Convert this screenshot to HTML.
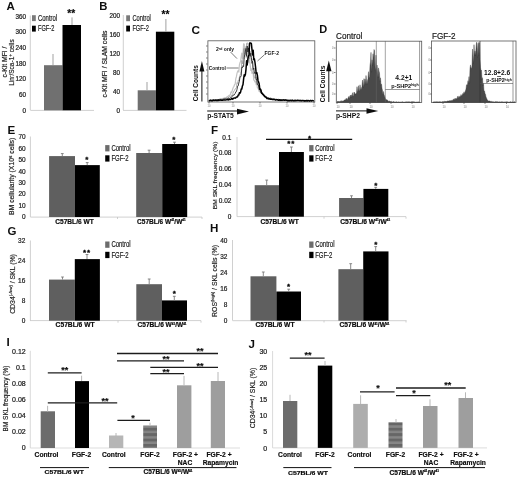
<!DOCTYPE html>
<html><head><meta charset="utf-8"><title>Figure</title>
<style>
html,body{margin:0;padding:0;background:#fff;}
body{width:520px;height:479px;overflow:hidden;font-family:"Liberation Sans",sans-serif;}
svg{display:block}
svg text{font-family:"Liberation Sans",sans-serif;}
</style></head><body>
<svg width="520" height="479" viewBox="0 0 520 479">
<defs><filter id="bl" x="0" y="0" width="100%" height="100%" filterUnits="userSpaceOnUse"><feGaussianBlur stdDeviation="0.38"/></filter></defs>
<rect width="520" height="479" fill="#fff"/>
<g filter="url(#bl)">
<rect width="520" height="479" fill="#fff"/>
<text x="6.6" y="10" font-size="11.5" font-weight="bold" text-anchor="start" fill="#111">A</text>
<text x="0" y="0" font-size="6.3" font-weight="normal" text-anchor="end" fill="#1c1c1c" stroke="#1c1c1c" stroke-width="0.22" transform="translate(26.0 18.6) scale(1 1)">360</text>
<text x="0" y="0" font-size="6.3" font-weight="normal" text-anchor="end" fill="#1c1c1c" stroke="#1c1c1c" stroke-width="0.22" transform="translate(26.0 34.3) scale(1 1)">300</text>
<text x="0" y="0" font-size="6.3" font-weight="normal" text-anchor="end" fill="#1c1c1c" stroke="#1c1c1c" stroke-width="0.22" transform="translate(26.0 50.0) scale(1 1)">240</text>
<text x="0" y="0" font-size="6.3" font-weight="normal" text-anchor="end" fill="#1c1c1c" stroke="#1c1c1c" stroke-width="0.22" transform="translate(26.0 65.6) scale(1 1)">180</text>
<text x="0" y="0" font-size="6.3" font-weight="normal" text-anchor="end" fill="#1c1c1c" stroke="#1c1c1c" stroke-width="0.22" transform="translate(26.0 81.3) scale(1 1)">120</text>
<text x="0" y="0" font-size="6.3" font-weight="normal" text-anchor="end" fill="#1c1c1c" stroke="#1c1c1c" stroke-width="0.22" transform="translate(26.0 97.0) scale(1 1)">60</text>
<text x="0" y="0" font-size="6.3" font-weight="normal" text-anchor="end" fill="#1c1c1c" stroke="#1c1c1c" stroke-width="0.22" transform="translate(26.0 112.6) scale(1 1)">0</text>
<line x1="30.3" y1="15.5" x2="30.3" y2="110" stroke="#c4c4c4" stroke-width="0.8"/>
<line x1="30.3" y1="110.4" x2="94" y2="110.4" stroke="#c4c4c4" stroke-width="0.8"/>
<rect x="44" y="65.2" width="18.5" height="45.099999999999994" fill="#707070" />
<rect x="62.5" y="25" width="18.5" height="85.3" fill="#040404" />
<line x1="53" y1="54" x2="53" y2="65" stroke="#969696" stroke-width="0.9"/>
<line x1="72" y1="17.4" x2="72" y2="25" stroke="#969696" stroke-width="0.9"/>
<text x="71.3" y="16.798000000000002" font-size="10.2" font-weight="bold" text-anchor="middle" fill="#080808" stroke="#080808" stroke-width="0.15">**</text>
<rect x="32" y="15.2" width="3.8" height="5.9" fill="#7a7a7a" />
<rect x="32" y="25.7" width="3.8" height="5.9" fill="#040404" />
<text x="38" y="20.700000000000003" font-size="8.6" font-weight="normal" text-anchor="start" fill="#1c1c1c" stroke="#1c1c1c" stroke-width="0.2" textLength="19.2" lengthAdjust="spacingAndGlyphs">Control</text>
<text x="38" y="31.200000000000003" font-size="8.6" font-weight="normal" text-anchor="start" fill="#1c1c1c" stroke="#1c1c1c" stroke-width="0.2" textLength="16.3" lengthAdjust="spacingAndGlyphs">FGF-2</text>
<text x="6.8" y="62" font-size="6.8" font-weight="normal" text-anchor="middle" fill="#1c1c1c" stroke="#1c1c1c" stroke-width="0.18" transform="rotate(-90 6.8 62)">c-Kit MFI /</text>
<text x="14.0" y="62.5" font-size="6.5" font-weight="normal" text-anchor="middle" fill="#1c1c1c" stroke="#1c1c1c" stroke-width="0.18" transform="rotate(-90 14.0 62.5)">Lin<tspan font-size="4.5" dy="-2">-</tspan><tspan dy="2">/Sca-1</tspan><tspan font-size="4.5" dy="-2">+</tspan><tspan dy="2"> cells</tspan></text>
<text x="99.2" y="10" font-size="11.3" font-weight="bold" text-anchor="start" fill="#111">B</text>
<text x="0" y="0" font-size="6.3" font-weight="normal" text-anchor="end" fill="#1c1c1c" stroke="#1c1c1c" stroke-width="0.22" transform="translate(119.9 18.1) scale(1 1)">200</text>
<text x="0" y="0" font-size="6.3" font-weight="normal" text-anchor="end" fill="#1c1c1c" stroke="#1c1c1c" stroke-width="0.22" transform="translate(119.9 37.0) scale(1 1)">160</text>
<text x="0" y="0" font-size="6.3" font-weight="normal" text-anchor="end" fill="#1c1c1c" stroke="#1c1c1c" stroke-width="0.22" transform="translate(119.9 55.9) scale(1 1)">120</text>
<text x="0" y="0" font-size="6.3" font-weight="normal" text-anchor="end" fill="#1c1c1c" stroke="#1c1c1c" stroke-width="0.22" transform="translate(119.9 74.8) scale(1 1)">80</text>
<text x="0" y="0" font-size="6.3" font-weight="normal" text-anchor="end" fill="#1c1c1c" stroke="#1c1c1c" stroke-width="0.22" transform="translate(119.9 93.69999999999999) scale(1 1)">40</text>
<text x="0" y="0" font-size="6.3" font-weight="normal" text-anchor="end" fill="#1c1c1c" stroke="#1c1c1c" stroke-width="0.22" transform="translate(119.9 112.6) scale(1 1)">0</text>
<line x1="123.3" y1="15" x2="123.3" y2="110" stroke="#c4c4c4" stroke-width="0.8"/>
<line x1="123" y1="110.4" x2="186.5" y2="110.4" stroke="#c4c4c4" stroke-width="0.8"/>
<rect x="137.7" y="90.3" width="18.200000000000017" height="20.0" fill="#707070" />
<rect x="155.9" y="31.7" width="18.400000000000006" height="78.6" fill="#040404" />
<line x1="147" y1="82" x2="147" y2="90.3" stroke="#969696" stroke-width="0.9"/>
<line x1="165.9" y1="19" x2="165.9" y2="31.7" stroke="#969696" stroke-width="0.9"/>
<text x="165.5" y="18.198" font-size="10.2" font-weight="bold" text-anchor="middle" fill="#080808" stroke="#080808" stroke-width="0.15">**</text>
<rect x="126.2" y="15.3" width="3.8" height="5.9" fill="#7a7a7a" />
<rect x="126.2" y="25.6" width="3.8" height="5.9" fill="#040404" />
<text x="132.4" y="20.800000000000004" font-size="8.6" font-weight="normal" text-anchor="start" fill="#1c1c1c" stroke="#1c1c1c" stroke-width="0.2" textLength="18.5" lengthAdjust="spacingAndGlyphs">Control</text>
<text x="132.4" y="31.1" font-size="8.6" font-weight="normal" text-anchor="start" fill="#1c1c1c" stroke="#1c1c1c" stroke-width="0.2" textLength="16.4" lengthAdjust="spacingAndGlyphs">FGF-2</text>
<text x="106.6" y="64" font-size="6.8" font-weight="normal" text-anchor="middle" fill="#1c1c1c" stroke="#1c1c1c" stroke-width="0.18" transform="rotate(-90 106.6 64)">c-Kit MFI / SLAM cells</text>
<text x="191.6" y="34" font-size="11.8" font-weight="bold" text-anchor="start" fill="#111">C</text>
<rect x="207.9" y="40.8" width="106.9" height="61.2" fill="#fff" stroke="#555" stroke-width="0.8"/>
<text x="198" y="83.3" font-size="6.5" font-weight="bold" text-anchor="middle" fill="#111" transform="rotate(-90 198 83.3)">Cell Counts</text>
<line x1="201.9" y1="101.5" x2="201.9" y2="69" stroke="#111" stroke-width="1"/>
<path d="M199.4 71.5 L201.9 61 L204.4 71.5 Z" fill="#111"/>
<line x1="207.2" y1="111" x2="240" y2="111" stroke="#111" stroke-width="1"/>
<text x="207.2" y="118.3" font-size="6.7" font-weight="bold" text-anchor="start" fill="#111">p-STAT5</text>
<path d="M237 108.8 L249 111.6 L237 114.6 Z" fill="#111"/>
<path d="M208.8 100.0 L209.4 100.2 L210.0 100.1 L210.6 99.9 L211.2 100.4 L211.8 99.9 L212.4 100.2 L213.0 99.8 L213.6 99.7 L214.2 100.0 L214.8 99.9 L215.4 99.7 L216.0 99.9 L216.6 100.0 L217.2 99.6 L217.8 99.8 L218.4 99.6 L219.0 99.8 L219.6 99.1 L220.2 99.3 L220.8 98.7 L221.4 99.3 L222.0 98.7 L222.6 98.6 L223.2 98.3 L223.8 98.6 L224.4 97.8 L225.0 98.0 L225.6 98.4 L226.2 97.3 L226.8 97.6 L227.4 96.5 L228.0 96.6 L228.6 95.7 L229.2 95.4 L229.8 95.0 L230.4 94.7 L231.0 91.9 L231.6 92.5 L232.2 90.6 L232.8 88.7 L233.4 87.1 L234.0 86.3 L234.6 84.5 L235.2 84.1 L235.8 78.6 L236.4 76.7 L237.0 73.4 L237.6 71.4 L238.2 70.6 L238.8 72.1 L239.4 65.0 L240.0 62.6 L240.6 61.5 L241.2 56.5 L241.8 53.1 L242.4 58.9 L243.0 55.1 L243.6 43.9 L244.2 44.1 L244.8 52.0 L245.4 46.8 L246.0 57.1 L246.6 47.7 L247.2 57.9 L247.8 56.8 L248.4 60.7 L249.0 62.7 L249.6 58.6 L250.2 65.1 L250.8 70.4 L251.4 68.8 L252.0 73.3 L252.6 72.4 L253.2 73.5 L253.8 80.1 L254.4 80.5 L255.0 82.1 L255.6 81.0 L256.2 84.7 L256.8 83.8 L257.4 87.6 L258.0 88.2 L258.6 89.6 L259.2 91.6 L259.8 89.6 L260.4 92.3 L261.0 93.0 L261.6 93.2 L262.2 95.0 L262.8 94.5 L263.4 94.6 L264.0 96.0 L264.6 95.5 L265.2 96.4 L265.8 97.2 L266.4 97.5 L267.0 97.8 L267.6 98.0 L268.2 98.2 L268.8 98.1 L269.4 98.3 L270.0 98.8 L270.6 98.1 L271.2 99.0 L271.8 98.5 L272.4 98.8 L273.0 98.7 L273.6 98.8 L274.2 99.2 L274.8 99.7 L275.4 99.3 L276.0 99.2 L276.6 99.4 L277.2 99.7 L277.8 99.4 L278.4 99.2 L279.0 99.8 L279.6 100.1 L280.2 99.7 L280.8 99.5 L281.4 99.8 L282.0 99.8 L282.6 100.0 L283.2 100.2 L283.8 99.8 L284.4 99.9 L285.0 99.9 L285.6 100.2 L286.2 100.3 L286.8 100.0 L287.4 100.4 L288.0 100.1 L288.6 100.5 L289.2 100.1 L289.8 100.0 L290.4 100.0 L291.0 100.3 L291.6 100.3 L292.2 100.3 L292.8 100.7 L293.4 100.3 L294.0 100.3 L294.6 100.6 L295.2 100.0 L295.8 100.5 L296.4 100.4 L297.0 100.3 L297.6 100.3 L298.2 100.4 L298.8 100.6 L299.4 100.6 L300.0 100.4 L300.6 100.4 L301.2 100.5 L301.8 100.6 L302.4 100.3 L303.0 100.6 L303.6 100.5 L304.2 100.5 L304.8 100.9 L305.4 100.8 L306.0 100.8 L306.6 100.5 L307.2 100.4 L307.8 100.4 L308.4 100.6 L309.0 100.8 L309.6 100.8 L310.2 100.3 L310.8 100.7 L311.4 100.7 L312.0 100.7 L312.6 100.8 L313.2 100.9 L313.8 100.4" fill="none" stroke="#c4c4c4" stroke-width="1.2" stroke-linejoin="round"/>
<path d="M208.8 99.9 L209.4 100.6 L210.0 100.0 L210.6 100.3 L211.2 100.1 L211.8 100.3 L212.4 100.2 L213.0 99.7 L213.6 99.9 L214.2 100.2 L214.8 100.4 L215.4 100.1 L216.0 99.7 L216.6 99.8 L217.2 100.2 L217.8 100.0 L218.4 99.4 L219.0 99.8 L219.6 99.3 L220.2 99.2 L220.8 99.2 L221.4 99.2 L222.0 99.3 L222.6 99.0 L223.2 99.1 L223.8 98.8 L224.4 98.7 L225.0 98.7 L225.6 98.4 L226.2 98.2 L226.8 98.1 L227.4 98.4 L228.0 97.9 L228.6 97.3 L229.2 96.9 L229.8 96.2 L230.4 96.4 L231.0 95.6 L231.6 95.8 L232.2 94.3 L232.8 93.8 L233.4 92.0 L234.0 91.0 L234.6 90.2 L235.2 88.9 L235.8 88.5 L236.4 87.7 L237.0 82.7 L237.6 83.5 L238.2 80.3 L238.8 80.7 L239.4 77.3 L240.0 75.3 L240.6 73.5 L241.2 71.2 L241.8 60.4 L242.4 63.9 L243.0 59.2 L243.6 48.6 L244.2 58.7 L244.8 48.4 L245.4 54.3 L246.0 54.7 L246.6 43.2 L247.2 43.0 L247.8 43.1 L248.4 50.4 L249.0 49.5 L249.6 58.9 L250.2 51.4 L250.8 57.3 L251.4 60.9 L252.0 58.7 L252.6 64.9 L253.2 72.8 L253.8 74.2 L254.4 77.1 L255.0 78.4 L255.6 77.4 L256.2 76.9 L256.8 83.2 L257.4 84.6 L258.0 84.4 L258.6 86.0 L259.2 88.3 L259.8 91.2 L260.4 91.0 L261.0 91.1 L261.6 93.6 L262.2 94.0 L262.8 94.0 L263.4 95.0 L264.0 95.5 L264.6 95.0 L265.2 96.3 L265.8 96.8 L266.4 97.1 L267.0 97.9 L267.6 97.4 L268.2 97.6 L268.8 98.1 L269.4 97.9 L270.0 98.6 L270.6 98.9 L271.2 98.4 L271.8 99.1 L272.4 99.0 L273.0 99.1 L273.6 99.5 L274.2 99.0 L274.8 99.3 L275.4 99.4 L276.0 99.5 L276.6 99.4 L277.2 99.9 L277.8 99.5 L278.4 99.3 L279.0 99.9 L279.6 99.5 L280.2 99.7 L280.8 99.9 L281.4 99.9 L282.0 99.9 L282.6 99.6 L283.2 99.6 L283.8 100.2 L284.4 100.2 L285.0 100.0 L285.6 99.9 L286.2 100.3 L286.8 99.9 L287.4 100.3 L288.0 100.5 L288.6 99.8 L289.2 100.4 L289.8 100.4 L290.4 100.1 L291.0 100.3 L291.6 100.3 L292.2 100.1 L292.8 100.4 L293.4 100.5 L294.0 100.3 L294.6 100.4 L295.2 100.1 L295.8 100.6 L296.4 100.7 L297.0 100.2 L297.6 100.5 L298.2 100.5 L298.8 100.2 L299.4 100.5 L300.0 100.5 L300.6 100.4 L301.2 100.3 L301.8 100.5 L302.4 100.5 L303.0 100.4 L303.6 100.6 L304.2 100.3 L304.8 100.4 L305.4 100.4 L306.0 100.5 L306.6 100.3 L307.2 100.5 L307.8 100.8 L308.4 100.5 L309.0 100.5 L309.6 100.6 L310.2 100.8 L310.8 100.7 L311.4 100.4 L312.0 101.0 L312.6 100.5 L313.2 100.5 L313.8 100.6" fill="none" stroke="#9a9a9a" stroke-width="0.8" stroke-linejoin="round"/>
<path d="M208.8 100.4 L209.4 100.3 L210.0 100.6 L210.6 100.2 L211.2 100.5 L211.8 100.2 L212.4 100.2 L213.0 100.4 L213.6 100.0 L214.2 100.0 L214.8 100.4 L215.4 100.0 L216.0 100.4 L216.6 100.0 L217.2 99.7 L217.8 99.7 L218.4 99.8 L219.0 99.6 L219.6 100.0 L220.2 100.1 L220.8 99.6 L221.4 99.8 L222.0 99.7 L222.6 99.6 L223.2 99.2 L223.8 99.1 L224.4 98.9 L225.0 99.4 L225.6 98.7 L226.2 98.8 L226.8 99.0 L227.4 98.5 L228.0 99.0 L228.6 97.9 L229.2 98.4 L229.8 98.3 L230.4 97.7 L231.0 97.3 L231.6 97.2 L232.2 96.4 L232.8 95.3 L233.4 95.1 L234.0 95.3 L234.6 94.0 L235.2 93.6 L235.8 91.8 L236.4 91.6 L237.0 89.4 L237.6 86.2 L238.2 85.9 L238.8 83.0 L239.4 81.2 L240.0 76.7 L240.6 76.9 L241.2 75.8 L241.8 67.3 L242.4 67.9 L243.0 65.7 L243.6 66.6 L244.2 57.6 L244.8 54.5 L245.4 51.2 L246.0 48.4 L246.6 56.3 L247.2 46.0 L247.8 52.0 L248.4 47.9 L249.0 52.1 L249.6 53.3 L250.2 56.3 L250.8 53.1 L251.4 57.7 L252.0 63.4 L252.6 61.2 L253.2 69.5 L253.8 68.0 L254.4 73.4 L255.0 72.2 L255.6 74.8 L256.2 80.0 L256.8 79.3 L257.4 84.7 L258.0 85.1 L258.6 85.3 L259.2 89.4 L259.8 88.5 L260.4 90.0 L261.0 92.9 L261.6 92.4 L262.2 94.0 L262.8 94.7 L263.4 94.7 L264.0 96.1 L264.6 95.5 L265.2 96.5 L265.8 96.8 L266.4 97.0 L267.0 97.5 L267.6 98.2 L268.2 98.6 L268.8 98.4 L269.4 98.6 L270.0 98.3 L270.6 98.3 L271.2 98.7 L271.8 99.1 L272.4 99.4 L273.0 99.1 L273.6 99.1 L274.2 99.4 L274.8 99.3 L275.4 99.4 L276.0 99.8 L276.6 99.4 L277.2 99.6 L277.8 99.4 L278.4 100.0 L279.0 99.6 L279.6 100.1 L280.2 100.0 L280.8 100.0 L281.4 100.2 L282.0 100.4 L282.6 100.4 L283.2 99.7 L283.8 100.2 L284.4 100.3 L285.0 100.1 L285.6 100.3 L286.2 100.4 L286.8 100.3 L287.4 100.3 L288.0 100.5 L288.6 100.3 L289.2 100.3 L289.8 100.2 L290.4 100.4 L291.0 100.3 L291.6 100.3 L292.2 100.6 L292.8 100.3 L293.4 100.5 L294.0 100.2 L294.6 100.5 L295.2 100.2 L295.8 100.5 L296.4 100.4 L297.0 100.3 L297.6 100.4 L298.2 100.5 L298.8 100.5 L299.4 100.8 L300.0 100.8 L300.6 100.9 L301.2 100.7 L301.8 100.4 L302.4 100.4 L303.0 100.4 L303.6 100.5 L304.2 100.9 L304.8 100.6 L305.4 100.9 L306.0 100.4 L306.6 100.8 L307.2 100.5 L307.8 100.9 L308.4 100.6 L309.0 100.7 L309.6 100.8 L310.2 100.8 L310.8 100.7 L311.4 100.7 L312.0 100.9 L312.6 100.5 L313.2 100.7 L313.8 100.6" fill="none" stroke="#2e2e2e" stroke-width="0.9" stroke-linejoin="round"/>
<path d="M208.8 100.9 L209.4 100.8 L210.0 100.7 L210.6 100.3 L211.2 100.7 L211.8 100.7 L212.4 100.8 L213.0 100.3 L213.6 100.2 L214.2 100.6 L214.8 100.4 L215.4 100.2 L216.0 100.6 L216.6 100.3 L217.2 100.6 L217.8 100.6 L218.4 100.0 L219.0 100.4 L219.6 100.1 L220.2 99.9 L220.8 100.2 L221.4 100.2 L222.0 100.3 L222.6 100.3 L223.2 100.1 L223.8 100.0 L224.4 100.1 L225.0 100.0 L225.6 100.1 L226.2 99.9 L226.8 99.7 L227.4 99.7 L228.0 99.7 L228.6 99.9 L229.2 99.3 L229.8 99.6 L230.4 99.5 L231.0 99.3 L231.6 98.6 L232.2 98.6 L232.8 99.2 L233.4 98.2 L234.0 98.2 L234.6 97.9 L235.2 98.2 L235.8 97.8 L236.4 97.0 L237.0 97.1 L237.6 96.8 L238.2 95.1 L238.8 95.1 L239.4 92.7 L240.0 93.2 L240.6 92.2 L241.2 89.1 L241.8 89.0 L242.4 86.0 L243.0 84.6 L243.6 79.1 L244.2 74.8 L244.8 76.1 L245.4 74.4 L246.0 69.3 L246.6 60.8 L247.2 64.9 L247.8 59.5 L248.4 56.1 L249.0 55.0 L249.6 43.0 L250.2 43.0 L250.8 43.0 L251.4 43.8 L252.0 49.7 L252.6 55.0 L253.2 50.2 L253.8 59.8 L254.4 58.8 L255.0 62.5 L255.6 67.4 L256.2 73.5 L256.8 72.7 L257.4 75.4 L258.0 80.4 L258.6 82.0 L259.2 83.9 L259.8 89.3 L260.4 89.0 L261.0 90.2 L261.6 93.2 L262.2 93.0 L262.8 94.1 L263.4 94.7 L264.0 95.5 L264.6 96.3 L265.2 97.0 L265.8 96.9 L266.4 97.8 L267.0 98.7 L267.6 98.3 L268.2 98.3 L268.8 99.0 L269.4 98.7 L270.0 99.0 L270.6 99.2 L271.2 99.3 L271.8 99.3 L272.4 99.5 L273.0 99.6 L273.6 99.6 L274.2 99.5 L274.8 99.5 L275.4 100.0 L276.0 99.9 L276.6 99.7 L277.2 99.8 L277.8 99.8 L278.4 100.3 L279.0 100.2 L279.6 99.8 L280.2 100.4 L280.8 100.2 L281.4 100.1 L282.0 100.5 L282.6 100.1 L283.2 100.1 L283.8 100.1 L284.4 100.2 L285.0 100.1 L285.6 100.1 L286.2 100.2 L286.8 100.3 L287.4 100.7 L288.0 100.5 L288.6 100.7 L289.2 100.7 L289.8 100.7 L290.4 100.5 L291.0 100.6 L291.6 100.8 L292.2 100.3 L292.8 100.5 L293.4 100.7 L294.0 100.9 L294.6 100.4 L295.2 100.4 L295.8 100.8 L296.4 100.6 L297.0 100.4 L297.6 100.3 L298.2 100.6 L298.8 100.5 L299.4 100.5 L300.0 100.4 L300.6 100.6 L301.2 100.5 L301.8 100.9 L302.4 100.6 L303.0 100.4 L303.6 100.8 L304.2 100.8 L304.8 101.0 L305.4 100.7 L306.0 100.7 L306.6 100.5 L307.2 101.0 L307.8 100.5 L308.4 100.5 L309.0 100.9 L309.6 100.9 L310.2 100.5 L310.8 100.6 L311.4 101.0 L312.0 100.5 L312.6 100.6 L313.2 100.8 L313.8 100.9" fill="none" stroke="#000" stroke-width="1.5" stroke-linejoin="round"/>
<text x="216" y="51" font-size="5" font-weight="bold" text-anchor="start" fill="#111">2<tspan font-size="3" dy="-1.5">nd</tspan><tspan dy="1.5"> only</tspan></text>
<line x1="230.5" y1="52" x2="237" y2="58.6" stroke="#222" stroke-width="0.6"/>
<text x="264.5" y="54.8" font-size="5" font-weight="bold" text-anchor="start" fill="#111">FGF-2</text>
<line x1="264.5" y1="54.7" x2="257.5" y2="61" stroke="#222" stroke-width="0.6"/>
<text x="208.8" y="69.6" font-size="4.8" font-weight="bold" text-anchor="start" fill="#111">Control</text>
<line x1="226.5" y1="68" x2="238.5" y2="68" stroke="#222" stroke-width="0.6"/>
<line x1="209" y1="102" x2="209" y2="103.5" stroke="#333" stroke-width="0.6"/>
<text x="209" y="106.8" font-size="2.6" font-weight="normal" text-anchor="middle" fill="#777">10</text>
<line x1="233" y1="102" x2="233" y2="103.5" stroke="#333" stroke-width="0.6"/>
<text x="233" y="106.8" font-size="2.6" font-weight="normal" text-anchor="middle" fill="#777">10</text>
<line x1="260" y1="102" x2="260" y2="103.5" stroke="#333" stroke-width="0.6"/>
<text x="260" y="106.8" font-size="2.6" font-weight="normal" text-anchor="middle" fill="#777">10</text>
<line x1="287" y1="102" x2="287" y2="103.5" stroke="#333" stroke-width="0.6"/>
<text x="287" y="106.8" font-size="2.6" font-weight="normal" text-anchor="middle" fill="#777">10</text>
<line x1="314" y1="102" x2="314" y2="103.5" stroke="#333" stroke-width="0.6"/>
<text x="314" y="106.8" font-size="2.6" font-weight="normal" text-anchor="middle" fill="#777">10</text>
<line x1="206" y1="46" x2="207.5" y2="46" stroke="#333" stroke-width="0.6"/>
<line x1="206" y1="52" x2="207.5" y2="52" stroke="#333" stroke-width="0.6"/>
<line x1="206" y1="58" x2="207.5" y2="58" stroke="#333" stroke-width="0.6"/>
<line x1="206" y1="64" x2="207.5" y2="64" stroke="#333" stroke-width="0.6"/>
<line x1="206" y1="70" x2="207.5" y2="70" stroke="#333" stroke-width="0.6"/>
<line x1="206" y1="76" x2="207.5" y2="76" stroke="#333" stroke-width="0.6"/>
<line x1="206" y1="82" x2="207.5" y2="82" stroke="#333" stroke-width="0.6"/>
<line x1="206" y1="88" x2="207.5" y2="88" stroke="#333" stroke-width="0.6"/>
<line x1="206" y1="94" x2="207.5" y2="94" stroke="#333" stroke-width="0.6"/>
<text x="319.3" y="32.8" font-size="11" font-weight="bold" text-anchor="start" fill="#111">D</text>
<text x="336" y="38.8" font-size="8.4" font-weight="normal" text-anchor="start" fill="#1c1c1c" stroke="#1c1c1c" stroke-width="0.2" textLength="26.3" lengthAdjust="spacingAndGlyphs">Control</text>
<text x="432" y="38.9" font-size="8.3" font-weight="normal" text-anchor="start" fill="#1c1c1c" stroke="#1c1c1c" stroke-width="0.2" textLength="23.4" lengthAdjust="spacingAndGlyphs">FGF-2</text>
<rect x="336.3" y="41.2" width="85.4" height="61.3" fill="#fff" stroke="#555" stroke-width="0.8"/>
<rect x="431.5" y="41" width="84.5" height="61.5" fill="#fff" stroke="#555" stroke-width="0.8"/>
<text x="325.4" y="83.9" font-size="6.8" font-weight="bold" text-anchor="middle" fill="#111" textLength="36.5" lengthAdjust="spacingAndGlyphs" transform="rotate(-90 325.4 83.9)">Cell Counts</text>
<line x1="328.8" y1="102" x2="328.8" y2="69" stroke="#111" stroke-width="1"/>
<path d="M326.1 71.2 L328.8 60.5 L331.5 71.2 Z" fill="#111"/>
<line x1="336" y1="110.9" x2="368" y2="110.9" stroke="#111" stroke-width="1"/>
<text x="336" y="118" font-size="6.5" font-weight="bold" text-anchor="start" fill="#111" textLength="24" lengthAdjust="spacingAndGlyphs">p-SHP2</text>
<path d="M366.5 108.3 L378.3 111 L366.5 113.7 Z" fill="#111"/>
<path d="M337.0 101.6 L337.5 101.6 L338.0 101.5 L338.5 101.6 L339.0 101.2 L339.5 101.7 L340.0 101.3 L340.5 101.4 L341.0 100.6 L341.5 100.9 L342.0 101.4 L342.5 101.0 L343.0 101.0 L343.5 100.9 L344.0 100.2 L344.5 100.0 L345.0 99.8 L345.5 99.9 L346.0 98.4 L346.5 98.5 L347.0 99.5 L347.5 99.4 L348.0 97.9 L348.5 97.3 L349.0 96.3 L349.5 98.9 L350.0 95.8 L350.5 95.1 L351.0 97.6 L351.5 94.8 L352.0 97.1 L352.5 92.7 L353.0 96.3 L353.5 96.1 L354.0 92.0 L354.5 92.6 L355.0 94.0 L355.5 94.0 L356.0 93.8 L356.5 92.8 L357.0 86.7 L357.5 90.9 L358.0 91.4 L358.5 85.7 L359.0 91.1 L359.5 90.2 L360.0 84.8 L360.5 88.7 L361.0 90.0 L361.5 88.1 L362.0 86.6 L362.5 80.1 L363.0 83.3 L363.5 87.5 L364.0 78.6 L364.5 85.9 L365.0 79.0 L365.5 84.9 L366.0 75.5 L366.5 80.7 L367.0 84.5 L367.5 80.6 L368.0 78.8 L368.5 71.7 L369.0 77.1 L369.5 77.7 L370.0 65.3 L370.5 62.0 L371.0 52.4 L371.5 72.3 L372.0 59.8 L372.5 65.5 L373.0 53.8 L373.5 58.7 L374.0 49.5 L374.5 50.7 L375.0 67.1 L375.5 70.9 L376.0 55.1 L376.5 73.7 L377.0 65.0 L377.5 70.7 L378.0 77.9 L378.5 67.9 L379.0 71.1 L379.5 73.1 L380.0 82.0 L380.5 77.8 L381.0 85.7 L381.5 83.9 L382.0 88.3 L382.5 90.4 L383.0 94.9 L383.5 91.5 L384.0 94.6 L384.5 95.7 L385.0 97.4 L385.5 99.1 L386.0 99.8 L386.5 99.7 L387.0 99.8 L387.5 100.1 L388.0 101.2 L388.5 101.0 L389.0 101.5 L389.5 101.1 L390.0 101.3 L390.5 101.5 L391.0 101.8 L391.5 101.4 L392.0 101.8 L392.5 101.9 L393.0 101.9 L393.5 101.6 L394.0 101.6 L394.5 102.1 L395.0 102.0 L395.5 102.0 L396.0 101.9 L396.5 101.7 L397.0 101.9 L397.5 102.2 L398.0 102.2 L398.5 101.9 L399.0 101.8 L399.5 102.2 L400.0 102.2 L400.5 102.1 L401.0 102.2 L401.5 102.0 L402.0 101.9 L402.5 101.7 L403.0 102.1 L403.5 102.2 L404.0 102.0 L404.5 102.2 L405.0 102.1 L405.5 101.9 L406.0 101.8 L406.5 101.8 L407.0 102.2 L407.5 101.8 L408.0 102.0 L408.5 101.7 L409.0 101.9 L409.5 101.8 L410.0 102.0 L410.5 102.1 L411.0 101.8 L411.5 101.8 L412.0 101.7 L412.5 101.7 L413.0 101.8 L413.5 101.7 L414.0 102.1 L414.5 102.0 L415.0 101.8 L415.5 102.3 L416.0 102.2 L416.5 102.2 L417.0 101.8 L417.5 102.2 L418.0 101.8 L418.5 101.9 L419.0 102.0 L419.5 102.2 L420.0 102.0 L420.0 102.4 L337.0 102.4 Z" fill="#484848" stroke="#3a3a3a" stroke-width="0.4" stroke-linejoin="round"/>
<line x1="376.3" y1="41" x2="376.3" y2="102.3" stroke="#666" stroke-width="0.6"/>
<line x1="385.3" y1="41" x2="385.3" y2="102.3" stroke="#666" stroke-width="0.6"/>
<line x1="385.3" y1="89.5" x2="419.6" y2="89.5" stroke="#555" stroke-width="0.6"/>
<line x1="419.6" y1="41" x2="419.6" y2="102.3" stroke="#555" stroke-width="0.6"/>
<text x="403.8" y="79.5" font-size="6.7" font-weight="bold" text-anchor="middle" fill="#111">4.2<tspan text-decoration="underline">+</tspan>1</text>
<text x="405" y="87.9" font-size="5.3" font-weight="bold" text-anchor="middle" fill="#111" textLength="27.5" lengthAdjust="spacingAndGlyphs">p-SHP2<tspan font-size="3.4" dy="-1.6">high</tspan></text>
<path d="M433.0 101.8 L433.5 102.1 L434.0 102.0 L434.5 101.8 L435.0 101.9 L435.5 101.8 L436.0 102.0 L436.5 101.7 L437.0 101.7 L437.5 101.8 L438.0 101.9 L438.5 102.1 L439.0 101.6 L439.5 102.1 L440.0 101.5 L440.5 101.9 L441.0 101.9 L441.5 101.9 L442.0 101.9 L442.5 101.5 L443.0 101.7 L443.5 101.6 L444.0 101.9 L444.5 101.2 L445.0 101.2 L445.5 101.5 L446.0 101.2 L446.5 101.6 L447.0 101.2 L447.5 101.0 L448.0 101.1 L448.5 101.0 L449.0 101.1 L449.5 100.6 L450.0 100.9 L450.5 100.6 L451.0 100.9 L451.5 100.3 L452.0 100.6 L452.5 100.4 L453.0 99.5 L453.5 99.3 L454.0 99.6 L454.5 99.6 L455.0 98.3 L455.5 99.8 L456.0 98.1 L456.5 99.1 L457.0 99.0 L457.5 96.3 L458.0 97.8 L458.5 97.5 L459.0 95.9 L459.5 97.5 L460.0 96.4 L460.5 96.6 L461.0 94.5 L461.5 95.9 L462.0 95.5 L462.5 94.3 L463.0 93.3 L463.5 94.6 L464.0 91.8 L464.5 94.0 L465.0 92.0 L465.5 90.6 L466.0 89.0 L466.5 84.8 L467.0 84.8 L467.5 84.4 L468.0 80.7 L468.5 83.6 L469.0 76.6 L469.5 83.8 L470.0 68.3 L470.5 64.9 L471.0 68.1 L471.5 68.6 L472.0 66.0 L472.5 49.1 L473.0 55.2 L473.5 63.5 L474.0 44.7 L474.5 55.6 L475.0 51.0 L475.5 55.6 L476.0 48.4 L476.5 42.5 L477.0 42.5 L477.5 58.0 L478.0 44.4 L478.5 42.5 L479.0 55.7 L479.5 42.5 L480.0 59.7 L480.5 67.6 L481.0 71.0 L481.5 70.2 L482.0 80.1 L482.5 77.7 L483.0 85.8 L483.5 83.4 L484.0 91.5 L484.5 90.8 L485.0 93.4 L485.5 94.3 L486.0 96.9 L486.5 98.0 L487.0 99.3 L487.5 100.3 L488.0 100.5 L488.5 101.1 L489.0 100.9 L489.5 100.9 L490.0 101.1 L490.5 101.4 L491.0 101.5 L491.5 101.4 L492.0 101.6 L492.5 101.8 L493.0 101.8 L493.5 101.8 L494.0 101.9 L494.5 102.0 L495.0 101.8 L495.5 101.7 L496.0 101.6 L496.5 101.7 L497.0 102.1 L497.5 101.7 L498.0 101.7 L498.5 102.0 L499.0 102.1 L499.5 101.8 L500.0 102.1 L500.5 102.0 L501.0 101.8 L501.5 101.8 L502.0 102.0 L502.5 101.8 L503.0 101.9 L503.5 102.0 L504.0 102.0 L504.5 101.9 L505.0 102.1 L505.5 101.9 L506.0 101.8 L506.5 101.8 L507.0 102.0 L507.5 101.8 L508.0 102.2 L508.5 102.2 L509.0 102.2 L509.5 102.1 L510.0 101.9 L510.5 101.7 L511.0 101.8 L511.5 102.2 L512.0 101.7 L512.5 102.1 L513.0 102.0 L513.5 102.1 L514.0 102.2 L514.5 101.7 L515.0 101.8 L515.0 102.4 L433.0 102.4 Z" fill="#484848" stroke="#3a3a3a" stroke-width="0.4" stroke-linejoin="round"/>
<line x1="480" y1="41" x2="480" y2="102.3" stroke="#333" stroke-width="0.7"/>
<line x1="480" y1="83.5" x2="513" y2="83.5" stroke="#555" stroke-width="0.6"/>
<line x1="513" y1="41" x2="513" y2="102.3" stroke="#555" stroke-width="0.6"/>
<text x="497.2" y="75.2" font-size="6.7" font-weight="bold" text-anchor="middle" fill="#111" textLength="26.2" lengthAdjust="spacingAndGlyphs">12.8<tspan text-decoration="underline">+</tspan>2.6</text>
<text x="499" y="82.2" font-size="5.2" font-weight="bold" text-anchor="middle" fill="#111" textLength="25.5" lengthAdjust="spacingAndGlyphs">p-SHP2<tspan font-size="3.4" dy="-1.6">high</tspan></text>
<line x1="337" y1="102.5" x2="337" y2="104" stroke="#333" stroke-width="0.6"/>
<text x="338" y="107.8" font-size="2.8" font-weight="normal" text-anchor="middle" fill="#777">10</text>
<line x1="350" y1="102.5" x2="350" y2="104" stroke="#333" stroke-width="0.6"/>
<text x="351" y="107.8" font-size="2.8" font-weight="normal" text-anchor="middle" fill="#777">10</text>
<line x1="370" y1="102.5" x2="370" y2="104" stroke="#333" stroke-width="0.6"/>
<text x="371" y="107.8" font-size="2.8" font-weight="normal" text-anchor="middle" fill="#777">10</text>
<line x1="391" y1="102.5" x2="391" y2="104" stroke="#333" stroke-width="0.6"/>
<text x="392" y="107.8" font-size="2.8" font-weight="normal" text-anchor="middle" fill="#777">10</text>
<line x1="412" y1="102.5" x2="412" y2="104" stroke="#333" stroke-width="0.6"/>
<text x="413" y="107.8" font-size="2.8" font-weight="normal" text-anchor="middle" fill="#777">10</text>
<line x1="443" y1="102.5" x2="443" y2="104" stroke="#333" stroke-width="0.6"/>
<text x="444" y="107.8" font-size="2.8" font-weight="normal" text-anchor="middle" fill="#777">10</text>
<line x1="464" y1="102.5" x2="464" y2="104" stroke="#333" stroke-width="0.6"/>
<text x="465" y="107.8" font-size="2.8" font-weight="normal" text-anchor="middle" fill="#777">10</text>
<line x1="485" y1="102.5" x2="485" y2="104" stroke="#333" stroke-width="0.6"/>
<text x="486" y="107.8" font-size="2.8" font-weight="normal" text-anchor="middle" fill="#777">10</text>
<line x1="506.5" y1="102.5" x2="506.5" y2="104" stroke="#333" stroke-width="0.6"/>
<text x="507.5" y="107.8" font-size="2.8" font-weight="normal" text-anchor="middle" fill="#777">10</text>
<line x1="334" y1="48" x2="335.5" y2="48" stroke="#333" stroke-width="0.6"/>
<line x1="430" y1="48" x2="431.5" y2="48" stroke="#333" stroke-width="0.6"/>
<text x="333.5" y="49" font-size="2.6" font-weight="normal" text-anchor="end" fill="#666">0</text>
<text x="430" y="49" font-size="2.6" font-weight="normal" text-anchor="end" fill="#666">0</text>
<line x1="334" y1="60" x2="335.5" y2="60" stroke="#333" stroke-width="0.6"/>
<line x1="430" y1="60" x2="431.5" y2="60" stroke="#333" stroke-width="0.6"/>
<text x="333.5" y="61" font-size="2.6" font-weight="normal" text-anchor="end" fill="#666">0</text>
<text x="430" y="61" font-size="2.6" font-weight="normal" text-anchor="end" fill="#666">0</text>
<line x1="334" y1="72.5" x2="335.5" y2="72.5" stroke="#333" stroke-width="0.6"/>
<line x1="430" y1="72.5" x2="431.5" y2="72.5" stroke="#333" stroke-width="0.6"/>
<text x="333.5" y="73.5" font-size="2.6" font-weight="normal" text-anchor="end" fill="#666">0</text>
<text x="430" y="73.5" font-size="2.6" font-weight="normal" text-anchor="end" fill="#666">0</text>
<line x1="334" y1="84" x2="335.5" y2="84" stroke="#333" stroke-width="0.6"/>
<line x1="430" y1="84" x2="431.5" y2="84" stroke="#333" stroke-width="0.6"/>
<text x="333.5" y="85" font-size="2.6" font-weight="normal" text-anchor="end" fill="#666">0</text>
<text x="430" y="85" font-size="2.6" font-weight="normal" text-anchor="end" fill="#666">0</text>
<line x1="334" y1="94" x2="335.5" y2="94" stroke="#333" stroke-width="0.6"/>
<line x1="430" y1="94" x2="431.5" y2="94" stroke="#333" stroke-width="0.6"/>
<text x="333.5" y="95" font-size="2.6" font-weight="normal" text-anchor="end" fill="#666">0</text>
<text x="430" y="95" font-size="2.6" font-weight="normal" text-anchor="end" fill="#666">0</text>
<text x="7.4" y="133.8" font-size="11.6" font-weight="bold" text-anchor="start" fill="#111">E</text>
<text x="0" y="0" font-size="7" font-weight="normal" text-anchor="end" fill="#1c1c1c" stroke="#1c1c1c" stroke-width="0.22" transform="translate(25.7 139.29999999999998) scale(0.93 1)">70</text>
<text x="0" y="0" font-size="7" font-weight="normal" text-anchor="end" fill="#1c1c1c" stroke="#1c1c1c" stroke-width="0.22" transform="translate(25.7 150.73) scale(0.93 1)">60</text>
<text x="0" y="0" font-size="7" font-weight="normal" text-anchor="end" fill="#1c1c1c" stroke="#1c1c1c" stroke-width="0.22" transform="translate(25.7 162.16) scale(0.93 1)">50</text>
<text x="0" y="0" font-size="7" font-weight="normal" text-anchor="end" fill="#1c1c1c" stroke="#1c1c1c" stroke-width="0.22" transform="translate(25.7 173.58999999999997) scale(0.93 1)">40</text>
<text x="0" y="0" font-size="7" font-weight="normal" text-anchor="end" fill="#1c1c1c" stroke="#1c1c1c" stroke-width="0.22" transform="translate(25.7 185.01999999999998) scale(0.93 1)">30</text>
<text x="0" y="0" font-size="7" font-weight="normal" text-anchor="end" fill="#1c1c1c" stroke="#1c1c1c" stroke-width="0.22" transform="translate(25.7 196.45) scale(0.93 1)">20</text>
<text x="0" y="0" font-size="7" font-weight="normal" text-anchor="end" fill="#1c1c1c" stroke="#1c1c1c" stroke-width="0.22" transform="translate(25.7 207.87999999999997) scale(0.93 1)">10</text>
<text x="0" y="0" font-size="7" font-weight="normal" text-anchor="end" fill="#1c1c1c" stroke="#1c1c1c" stroke-width="0.22" transform="translate(25.7 219.30999999999997) scale(0.93 1)">0</text>
<line x1="30.4" y1="136.5" x2="30.4" y2="217" stroke="#c4c4c4" stroke-width="0.8"/>
<line x1="30.4" y1="217.1" x2="202" y2="217.1" stroke="#c4c4c4" stroke-width="0.8"/>
<line x1="117.5" y1="217" x2="117.5" y2="219" stroke="#c4c4c4" stroke-width="0.8"/>
<line x1="202" y1="217" x2="202" y2="219" stroke="#c4c4c4" stroke-width="0.8"/>
<rect x="49.1" y="156.1" width="25.9" height="60.900000000000006" fill="#5e5e5e" />
<rect x="75" y="165.1" width="24.799999999999997" height="51.900000000000006" fill="#040404" />
<line x1="62.3" y1="153.6" x2="62.3" y2="156.1" stroke="#7c7c7c" stroke-width="0.9"/>
<line x1="60.9" y1="153.6" x2="63.699999999999996" y2="153.6" stroke="#7c7c7c" stroke-width="0.9"/>
<line x1="87.2" y1="162.6" x2="87.2" y2="165.1" stroke="#7c7c7c" stroke-width="0.9"/>
<line x1="85.8" y1="162.6" x2="88.60000000000001" y2="162.6" stroke="#7c7c7c" stroke-width="0.9"/>
<text x="86.7" y="162.11999999999998" font-size="8" font-weight="bold" text-anchor="middle" fill="#080808" stroke="#080808" stroke-width="0.3">*</text>
<rect x="136.2" y="153" width="26.0" height="64" fill="#5e5e5e" />
<rect x="162.2" y="144" width="25.0" height="73" fill="#040404" />
<line x1="149.1" y1="150.2" x2="149.1" y2="153" stroke="#7c7c7c" stroke-width="0.9"/>
<line x1="147.7" y1="150.2" x2="150.5" y2="150.2" stroke="#7c7c7c" stroke-width="0.9"/>
<line x1="174.5" y1="142.2" x2="174.5" y2="144" stroke="#7c7c7c" stroke-width="0.9"/>
<line x1="173.1" y1="142.2" x2="175.9" y2="142.2" stroke="#7c7c7c" stroke-width="0.9"/>
<text x="173.9" y="141.61999999999998" font-size="8" font-weight="bold" text-anchor="middle" fill="#080808" stroke="#080808" stroke-width="0.3">*</text>
<rect x="105.2" y="145.1" width="4.3" height="6.3" fill="#6c6c6c" />
<rect x="105.2" y="155.3" width="4.3" height="6.3" fill="#040404" />
<text x="111.4" y="151.0" font-size="8.7" font-weight="normal" text-anchor="start" fill="#1c1c1c" stroke="#1c1c1c" stroke-width="0.2" textLength="19.3" lengthAdjust="spacingAndGlyphs">Control</text>
<text x="111.4" y="161.20000000000002" font-size="8.7" font-weight="normal" text-anchor="start" fill="#1c1c1c" stroke="#1c1c1c" stroke-width="0.2" textLength="17.2" lengthAdjust="spacingAndGlyphs">FGF-2</text>
<text x="74.5" y="223.8" font-size="7.2" font-weight="bold" text-anchor="middle" fill="#0a0a0a" stroke="#0a0a0a" stroke-width="0.2" textLength="38.4" lengthAdjust="spacingAndGlyphs">C57BL/6 WT</text>
<text x="161.3" y="223.8" font-size="7.2" font-weight="bold" text-anchor="middle" fill="#0a0a0a" stroke="#0a0a0a" stroke-width="0.2" textLength="48.5" lengthAdjust="spacingAndGlyphs">C57BL/6 W<tspan font-size="3.2" dy="-2.6">41</tspan><tspan dy="2.6">/W</tspan><tspan font-size="3.2" dy="-2.6">41</tspan></text>
<text x="0" y="0" font-size="6.85" font-weight="normal" text-anchor="middle" fill="#1c1c1c" stroke="#1c1c1c" stroke-width="0.18" transform="translate(14.4 176.4) scale(0.92 1) rotate(-90)">BM cellularity (X10<tspan font-size="4.2" dy="-2.3">6</tspan><tspan dy="2.3"> cells)</tspan></text>
<text x="211" y="133.8" font-size="11.6" font-weight="bold" text-anchor="start" fill="#111">F</text>
<text x="0" y="0" font-size="7" font-weight="normal" text-anchor="end" fill="#1c1c1c" stroke="#1c1c1c" stroke-width="0.22" transform="translate(231.4 139.5) scale(0.93 1)">0.1</text>
<text x="0" y="0" font-size="7" font-weight="normal" text-anchor="end" fill="#1c1c1c" stroke="#1c1c1c" stroke-width="0.22" transform="translate(231.4 155.45) scale(0.93 1)">0.08</text>
<text x="0" y="0" font-size="7" font-weight="normal" text-anchor="end" fill="#1c1c1c" stroke="#1c1c1c" stroke-width="0.22" transform="translate(231.4 171.4) scale(0.93 1)">0.06</text>
<text x="0" y="0" font-size="7" font-weight="normal" text-anchor="end" fill="#1c1c1c" stroke="#1c1c1c" stroke-width="0.22" transform="translate(231.4 187.35) scale(0.93 1)">0.04</text>
<text x="0" y="0" font-size="7" font-weight="normal" text-anchor="end" fill="#1c1c1c" stroke="#1c1c1c" stroke-width="0.22" transform="translate(231.4 203.29999999999998) scale(0.93 1)">0.02</text>
<text x="0" y="0" font-size="7" font-weight="normal" text-anchor="end" fill="#1c1c1c" stroke="#1c1c1c" stroke-width="0.22" transform="translate(231.4 219.25) scale(0.93 1)">0</text>
<line x1="237" y1="137" x2="237" y2="216.7" stroke="#c4c4c4" stroke-width="0.8"/>
<line x1="237" y1="216.6" x2="406" y2="216.6" stroke="#c4c4c4" stroke-width="0.8"/>
<line x1="324" y1="216.7" x2="324" y2="218.7" stroke="#c4c4c4" stroke-width="0.8"/>
<line x1="406" y1="216.7" x2="406" y2="218.7" stroke="#c4c4c4" stroke-width="0.8"/>
<rect x="254.7" y="185.2" width="24.30000000000001" height="31.5" fill="#5e5e5e" />
<rect x="279" y="152" width="24.899999999999977" height="64.69999999999999" fill="#040404" />
<line x1="266.7" y1="180.1" x2="266.7" y2="185.2" stroke="#7c7c7c" stroke-width="0.9"/>
<line x1="265.3" y1="180.1" x2="268.09999999999997" y2="180.1" stroke="#7c7c7c" stroke-width="0.9"/>
<line x1="291.4" y1="147" x2="291.4" y2="152" stroke="#7c7c7c" stroke-width="0.9"/>
<line x1="290.0" y1="147" x2="292.79999999999995" y2="147" stroke="#7c7c7c" stroke-width="0.9"/>
<text x="291.3" y="146.01999999999998" font-size="8" font-weight="bold" text-anchor="middle" fill="#080808" stroke="#080808" stroke-width="0.3" letter-spacing="0.9">**</text>
<line x1="266" y1="139.3" x2="352.2" y2="139.3" stroke="#0c0c0c" stroke-width="1.3"/>
<text x="309.5" y="140.72" font-size="8" font-weight="bold" text-anchor="middle" fill="#080808" stroke="#080808" stroke-width="0.3">*</text>
<rect x="339.1" y="198" width="24.299999999999955" height="18.69999999999999" fill="#5e5e5e" />
<rect x="363.4" y="188.9" width="24.900000000000034" height="27.799999999999983" fill="#040404" />
<line x1="351.5" y1="195.8" x2="351.5" y2="198" stroke="#7c7c7c" stroke-width="0.9"/>
<line x1="350.1" y1="195.8" x2="352.9" y2="195.8" stroke="#7c7c7c" stroke-width="0.9"/>
<line x1="375.7" y1="187.3" x2="375.7" y2="188.9" stroke="#7c7c7c" stroke-width="0.9"/>
<line x1="374.3" y1="187.3" x2="377.09999999999997" y2="187.3" stroke="#7c7c7c" stroke-width="0.9"/>
<text x="375.7" y="187.61999999999998" font-size="8" font-weight="bold" text-anchor="middle" fill="#080808" stroke="#080808" stroke-width="0.3">*</text>
<rect x="309.2" y="145.1" width="4.3" height="6.3" fill="#6c6c6c" />
<rect x="309.2" y="155.3" width="4.3" height="6.3" fill="#040404" />
<text x="315.2" y="151.0" font-size="8.7" font-weight="normal" text-anchor="start" fill="#1c1c1c" stroke="#1c1c1c" stroke-width="0.2" textLength="19.3" lengthAdjust="spacingAndGlyphs">Control</text>
<text x="315.2" y="161.20000000000002" font-size="8.7" font-weight="normal" text-anchor="start" fill="#1c1c1c" stroke="#1c1c1c" stroke-width="0.2" textLength="17.2" lengthAdjust="spacingAndGlyphs">FGF-2</text>
<text x="279.6" y="223.9" font-size="7" font-weight="bold" text-anchor="middle" fill="#0a0a0a" stroke="#0a0a0a" stroke-width="0.2" textLength="38.4" lengthAdjust="spacingAndGlyphs">C57BL/6 WT</text>
<text x="365.2" y="223.7" font-size="7" font-weight="bold" text-anchor="middle" fill="#0a0a0a" stroke="#0a0a0a" stroke-width="0.2" textLength="50" lengthAdjust="spacingAndGlyphs">C57BL/6 W<tspan font-size="3.2" dy="-2.6">41</tspan><tspan dy="2.6">/W</tspan><tspan font-size="3.2" dy="-2.6">41</tspan></text>
<text x="0" y="0" font-size="6.7" font-weight="normal" text-anchor="middle" fill="#1c1c1c" stroke="#1c1c1c" stroke-width="0.18" transform="translate(217.2 175.4) scale(0.92 1) rotate(-90)">BM SKL frequency (%)</text>
<text x="7.5" y="234.5" font-size="11.5" font-weight="bold" text-anchor="start" fill="#111">G</text>
<text x="0" y="0" font-size="7" font-weight="normal" text-anchor="end" fill="#1c1c1c" stroke="#1c1c1c" stroke-width="0.22" transform="translate(25.3 243.29999999999998) scale(0.93 1)">32</text>
<text x="0" y="0" font-size="7" font-weight="normal" text-anchor="end" fill="#1c1c1c" stroke="#1c1c1c" stroke-width="0.22" transform="translate(25.3 263.27) scale(0.93 1)">24</text>
<text x="0" y="0" font-size="7" font-weight="normal" text-anchor="end" fill="#1c1c1c" stroke="#1c1c1c" stroke-width="0.22" transform="translate(25.3 283.24) scale(0.93 1)">16</text>
<text x="0" y="0" font-size="7" font-weight="normal" text-anchor="end" fill="#1c1c1c" stroke="#1c1c1c" stroke-width="0.22" transform="translate(25.3 303.21000000000004) scale(0.93 1)">8</text>
<text x="0" y="0" font-size="7" font-weight="normal" text-anchor="end" fill="#1c1c1c" stroke="#1c1c1c" stroke-width="0.22" transform="translate(25.3 323.18) scale(0.93 1)">0</text>
<line x1="30.4" y1="240.5" x2="30.4" y2="320.7" stroke="#c4c4c4" stroke-width="0.8"/>
<line x1="30" y1="320.6" x2="201" y2="320.6" stroke="#c4c4c4" stroke-width="0.8"/>
<line x1="118" y1="320.7" x2="118" y2="322.7" stroke="#c4c4c4" stroke-width="0.8"/>
<line x1="201" y1="320.7" x2="201" y2="322.7" stroke="#c4c4c4" stroke-width="0.8"/>
<rect x="49" y="279.6" width="25.799999999999997" height="41.099999999999966" fill="#5e5e5e" />
<rect x="74.8" y="259.1" width="25.10000000000001" height="61.599999999999966" fill="#040404" />
<line x1="62.5" y1="277" x2="62.5" y2="279.5" stroke="#7c7c7c" stroke-width="0.9"/>
<line x1="61.1" y1="277" x2="63.9" y2="277" stroke="#7c7c7c" stroke-width="0.9"/>
<line x1="87" y1="254.5" x2="87" y2="259" stroke="#7c7c7c" stroke-width="0.9"/>
<line x1="85.6" y1="254.5" x2="88.4" y2="254.5" stroke="#7c7c7c" stroke-width="0.9"/>
<text x="86.9" y="254.72" font-size="8" font-weight="bold" text-anchor="middle" fill="#080808" stroke="#080808" stroke-width="0.3" letter-spacing="0.9">**</text>
<rect x="136.3" y="284.2" width="25.69999999999999" height="36.5" fill="#5e5e5e" />
<rect x="162" y="300.4" width="25" height="20.30000000000001" fill="#040404" />
<line x1="149.2" y1="279" x2="149.2" y2="284.2" stroke="#7c7c7c" stroke-width="0.9"/>
<line x1="147.79999999999998" y1="279" x2="150.6" y2="279" stroke="#7c7c7c" stroke-width="0.9"/>
<line x1="174.3" y1="296.3" x2="174.3" y2="300.4" stroke="#7c7c7c" stroke-width="0.9"/>
<line x1="172.9" y1="296.3" x2="175.70000000000002" y2="296.3" stroke="#7c7c7c" stroke-width="0.9"/>
<text x="174.3" y="296.32" font-size="8" font-weight="bold" text-anchor="middle" fill="#080808" stroke="#080808" stroke-width="0.3">*</text>
<rect x="105.2" y="241.5" width="4.3" height="6.3" fill="#6c6c6c" />
<rect x="105.2" y="251.8" width="4.3" height="6.3" fill="#040404" />
<text x="111.4" y="247.4" font-size="8.7" font-weight="normal" text-anchor="start" fill="#1c1c1c" stroke="#1c1c1c" stroke-width="0.2" textLength="19.3" lengthAdjust="spacingAndGlyphs">Control</text>
<text x="111.4" y="257.70000000000005" font-size="8.7" font-weight="normal" text-anchor="start" fill="#1c1c1c" stroke="#1c1c1c" stroke-width="0.2" textLength="17.2" lengthAdjust="spacingAndGlyphs">FGF-2</text>
<text x="75.1" y="327.3" font-size="7" font-weight="bold" text-anchor="middle" fill="#0a0a0a" stroke="#0a0a0a" stroke-width="0.2" textLength="39" lengthAdjust="spacingAndGlyphs">C57BL/6 WT</text>
<text x="162" y="327.3" font-size="7" font-weight="bold" text-anchor="middle" fill="#0a0a0a" stroke="#0a0a0a" stroke-width="0.2" textLength="49" lengthAdjust="spacingAndGlyphs">C57BL/6 W<tspan font-size="3.2" dy="-2.6">41</tspan><tspan dy="2.6">/W</tspan><tspan font-size="3.2" dy="-2.6">41</tspan></text>
<text x="0" y="0" font-size="6.9" font-weight="normal" text-anchor="middle" fill="#1c1c1c" stroke="#1c1c1c" stroke-width="0.18" transform="translate(14.6 284) scale(0.92 1) rotate(-90)">CD34<tspan font-size="4" dy="-2.3">(-/low)</tspan><tspan dy="2.3"> / SKL (%)</tspan></text>
<text x="210.1" y="232.4" font-size="11.6" font-weight="bold" text-anchor="start" fill="#111">H</text>
<text x="0" y="0" font-size="7" font-weight="normal" text-anchor="end" fill="#1c1c1c" stroke="#1c1c1c" stroke-width="0.22" transform="translate(227.4 242.9) scale(0.93 1)">40</text>
<text x="0" y="0" font-size="7" font-weight="normal" text-anchor="end" fill="#1c1c1c" stroke="#1c1c1c" stroke-width="0.22" transform="translate(227.4 258.93000000000006) scale(0.93 1)">32</text>
<text x="0" y="0" font-size="7" font-weight="normal" text-anchor="end" fill="#1c1c1c" stroke="#1c1c1c" stroke-width="0.22" transform="translate(227.4 274.96000000000004) scale(0.93 1)">24</text>
<text x="0" y="0" font-size="7" font-weight="normal" text-anchor="end" fill="#1c1c1c" stroke="#1c1c1c" stroke-width="0.22" transform="translate(227.4 290.99) scale(0.93 1)">16</text>
<text x="0" y="0" font-size="7" font-weight="normal" text-anchor="end" fill="#1c1c1c" stroke="#1c1c1c" stroke-width="0.22" transform="translate(227.4 307.02000000000004) scale(0.93 1)">8</text>
<text x="0" y="0" font-size="7" font-weight="normal" text-anchor="end" fill="#1c1c1c" stroke="#1c1c1c" stroke-width="0.22" transform="translate(227.4 323.05000000000007) scale(0.93 1)">0</text>
<line x1="232.5" y1="240" x2="232.5" y2="320.5" stroke="#c4c4c4" stroke-width="0.8"/>
<line x1="232.5" y1="320.7" x2="406.5" y2="320.7" stroke="#c4c4c4" stroke-width="0.8"/>
<line x1="324" y1="320.5" x2="324" y2="322.5" stroke="#c4c4c4" stroke-width="0.8"/>
<line x1="406" y1="320.5" x2="406" y2="322.5" stroke="#c4c4c4" stroke-width="0.8"/>
<rect x="250.5" y="276.3" width="25.899999999999977" height="44.39999999999998" fill="#5e5e5e" />
<rect x="276.4" y="291.5" width="24.600000000000023" height="29.19999999999999" fill="#040404" />
<line x1="263.3" y1="272" x2="263.3" y2="276.3" stroke="#7c7c7c" stroke-width="0.9"/>
<line x1="261.90000000000003" y1="272" x2="264.7" y2="272" stroke="#7c7c7c" stroke-width="0.9"/>
<line x1="288.7" y1="289.2" x2="288.7" y2="291.5" stroke="#7c7c7c" stroke-width="0.9"/>
<line x1="287.3" y1="289.2" x2="290.09999999999997" y2="289.2" stroke="#7c7c7c" stroke-width="0.9"/>
<text x="288.5" y="288.62" font-size="8" font-weight="bold" text-anchor="middle" fill="#080808" stroke="#080808" stroke-width="0.3">*</text>
<rect x="338.4" y="269.2" width="24.80000000000001" height="51.5" fill="#5e5e5e" />
<rect x="363.2" y="251.4" width="25.30000000000001" height="69.29999999999998" fill="#040404" />
<line x1="350.7" y1="263.7" x2="350.7" y2="269.2" stroke="#7c7c7c" stroke-width="0.9"/>
<line x1="349.3" y1="263.7" x2="352.09999999999997" y2="263.7" stroke="#7c7c7c" stroke-width="0.9"/>
<line x1="375.7" y1="246.6" x2="375.7" y2="251.4" stroke="#7c7c7c" stroke-width="0.9"/>
<line x1="374.3" y1="246.6" x2="377.09999999999997" y2="246.6" stroke="#7c7c7c" stroke-width="0.9"/>
<text x="375.7" y="246.72" font-size="8" font-weight="bold" text-anchor="middle" fill="#080808" stroke="#080808" stroke-width="0.3">*</text>
<rect x="309.2" y="241.5" width="4.3" height="6.3" fill="#6c6c6c" />
<rect x="309.2" y="251.8" width="4.3" height="6.3" fill="#040404" />
<text x="315.2" y="247.4" font-size="8.7" font-weight="normal" text-anchor="start" fill="#1c1c1c" stroke="#1c1c1c" stroke-width="0.2" textLength="19.3" lengthAdjust="spacingAndGlyphs">Control</text>
<text x="315.2" y="257.70000000000005" font-size="8.7" font-weight="normal" text-anchor="start" fill="#1c1c1c" stroke="#1c1c1c" stroke-width="0.2" textLength="17.2" lengthAdjust="spacingAndGlyphs">FGF-2</text>
<text x="275" y="327.3" font-size="7" font-weight="bold" text-anchor="middle" fill="#0a0a0a" stroke="#0a0a0a" stroke-width="0.2" textLength="39" lengthAdjust="spacingAndGlyphs">C57BL/6 WT</text>
<text x="364.4" y="327.1" font-size="7" font-weight="bold" text-anchor="middle" fill="#0a0a0a" stroke="#0a0a0a" stroke-width="0.2" textLength="50" lengthAdjust="spacingAndGlyphs">C57BL/6 W<tspan font-size="3.2" dy="-2.6">41</tspan><tspan dy="2.6">/W</tspan><tspan font-size="3.2" dy="-2.6">41</tspan></text>
<text x="0" y="0" font-size="6.9" font-weight="normal" text-anchor="middle" fill="#1c1c1c" stroke="#1c1c1c" stroke-width="0.18" transform="translate(216.5 281) scale(0.92 1) rotate(-90)">ROS<tspan font-size="4" dy="-2.3">(high)</tspan><tspan dy="2.3"> / SKL cells (%)</tspan></text>
<defs><pattern id="st" width="4" height="5.4" y="1.2" patternUnits="userSpaceOnUse"><rect width="4" height="5.4" fill="#666"/><rect y="2.9" width="4" height="2.5" fill="#868686"/></pattern></defs>
<text x="6.6" y="345.5" font-size="11.6" font-weight="bold" text-anchor="start" fill="#111">I</text>
<text x="0" y="0" font-size="7" font-weight="normal" text-anchor="end" fill="#1c1c1c" stroke="#1c1c1c" stroke-width="0.22" transform="translate(25.7 353.90000000000003) scale(1 1)">0.12</text>
<text x="0" y="0" font-size="7" font-weight="normal" text-anchor="end" fill="#1c1c1c" stroke="#1c1c1c" stroke-width="0.22" transform="translate(25.7 369.95000000000005) scale(1 1)">0.1</text>
<text x="0" y="0" font-size="7" font-weight="normal" text-anchor="end" fill="#1c1c1c" stroke="#1c1c1c" stroke-width="0.22" transform="translate(25.7 386.00000000000006) scale(1 1)">0.08</text>
<text x="0" y="0" font-size="7" font-weight="normal" text-anchor="end" fill="#1c1c1c" stroke="#1c1c1c" stroke-width="0.22" transform="translate(25.7 402.05000000000007) scale(1 1)">0.06</text>
<text x="0" y="0" font-size="7" font-weight="normal" text-anchor="end" fill="#1c1c1c" stroke="#1c1c1c" stroke-width="0.22" transform="translate(25.7 418.1) scale(1 1)">0.04</text>
<text x="0" y="0" font-size="7" font-weight="normal" text-anchor="end" fill="#1c1c1c" stroke="#1c1c1c" stroke-width="0.22" transform="translate(25.7 434.15000000000003) scale(1 1)">0.02</text>
<text x="0" y="0" font-size="7" font-weight="normal" text-anchor="end" fill="#1c1c1c" stroke="#1c1c1c" stroke-width="0.22" transform="translate(25.7 450.20000000000005) scale(1 1)">0</text>
<line x1="30.3" y1="350.8" x2="30.3" y2="448" stroke="#cfcfcf" stroke-width="0.8"/>
<line x1="30.3" y1="448" x2="240" y2="448" stroke="#d4d4d4" stroke-width="0.8"/>
<rect x="40.7" y="411.3" width="14.299999999999997" height="36.69999999999999" fill="#6c6c6c" />
<rect x="75" y="381.1" width="14" height="66.89999999999998" fill="#040404" />
<rect x="109" y="435.5" width="14.299999999999997" height="12.5" fill="#b6b6b6" />
<rect x="143.2" y="425.5" width="13.8" height="22.5" fill="url(#st)"/>
<rect x="177" y="385.3" width="14.400000000000006" height="62.69999999999999" fill="#9e9e9e" />
<rect x="210.8" y="381" width="14.199999999999989" height="67" fill="#9e9e9e" />
<line x1="47.6" y1="405.8" x2="47.6" y2="411.8" stroke="#b0b0b0" stroke-width="0.9"/>
<line x1="81.6" y1="375.7" x2="81.6" y2="381" stroke="#b0b0b0" stroke-width="0.9"/>
<line x1="116" y1="433" x2="116" y2="436" stroke="#b0b0b0" stroke-width="0.9"/>
<line x1="150" y1="422.7" x2="150" y2="425" stroke="#b0b0b0" stroke-width="0.9"/>
<line x1="184" y1="375.9" x2="184" y2="385.3" stroke="#b0b0b0" stroke-width="0.9"/>
<line x1="218" y1="372" x2="218" y2="381" stroke="#b0b0b0" stroke-width="0.9"/>
<line x1="47.8" y1="372.9" x2="81.6" y2="372.9" stroke="#1e1e1e" stroke-width="1.3"/>
<text x="64.8" y="372.51000000000005" font-size="9" font-weight="bold" text-anchor="middle" fill="#080808" stroke="#080808" stroke-width="0.15">**</text>
<line x1="47.8" y1="402.9" x2="117.2" y2="402.9" stroke="#1e1e1e" stroke-width="1.3"/>
<text x="105" y="403.51000000000005" font-size="9" font-weight="bold" text-anchor="middle" fill="#080808" stroke="#080808" stroke-width="0.15">**</text>
<line x1="117" y1="353.5" x2="218" y2="353.5" stroke="#1e1e1e" stroke-width="1.3"/>
<text x="200" y="354.01000000000005" font-size="9" font-weight="bold" text-anchor="middle" fill="#080808" stroke="#080808" stroke-width="0.15">**</text>
<line x1="117" y1="360.9" x2="184" y2="360.9" stroke="#1e1e1e" stroke-width="1.3"/>
<text x="166" y="361.51000000000005" font-size="9" font-weight="bold" text-anchor="middle" fill="#080808" stroke="#080808" stroke-width="0.15">**</text>
<line x1="150.3" y1="367.4" x2="218" y2="367.4" stroke="#1e1e1e" stroke-width="1.3"/>
<text x="200" y="368.51000000000005" font-size="9" font-weight="bold" text-anchor="middle" fill="#080808" stroke="#080808" stroke-width="0.15">**</text>
<line x1="150.3" y1="373.7" x2="184" y2="373.7" stroke="#1e1e1e" stroke-width="1.3"/>
<text x="166" y="374.51000000000005" font-size="9" font-weight="bold" text-anchor="middle" fill="#080808" stroke="#080808" stroke-width="0.15">**</text>
<line x1="117.4" y1="420.3" x2="150" y2="420.3" stroke="#1e1e1e" stroke-width="1.3"/>
<text x="133" y="420.51000000000005" font-size="9" font-weight="bold" text-anchor="middle" fill="#080808" stroke="#080808" stroke-width="0.15">*</text>
<text x="46.5" y="457.3" font-size="6.7" font-weight="bold" text-anchor="middle" fill="#0a0a0a" stroke="#0a0a0a" stroke-width="0.15">Control</text>
<text x="81.5" y="457.3" font-size="6.7" font-weight="bold" text-anchor="middle" fill="#0a0a0a" stroke="#0a0a0a" stroke-width="0.15">FGF-2</text>
<text x="113.8" y="457.3" font-size="6.7" font-weight="bold" text-anchor="middle" fill="#0a0a0a" stroke="#0a0a0a" stroke-width="0.15">Control</text>
<text x="150" y="457.3" font-size="6.7" font-weight="bold" text-anchor="middle" fill="#0a0a0a" stroke="#0a0a0a" stroke-width="0.15">FGF-2</text>
<text x="185.4" y="457.3" font-size="6.7" font-weight="bold" text-anchor="middle" fill="#0a0a0a" stroke="#0a0a0a" stroke-width="0.15">FGF-2 +</text>
<text x="185" y="464.5" font-size="6.7" font-weight="bold" text-anchor="middle" fill="#0a0a0a" stroke="#0a0a0a" stroke-width="0.15">NAC</text>
<text x="219" y="457.3" font-size="6.7" font-weight="bold" text-anchor="middle" fill="#0a0a0a" stroke="#0a0a0a" stroke-width="0.15">FGF-2 +</text>
<text x="220.5" y="464.5" font-size="6.7" font-weight="bold" text-anchor="middle" fill="#0a0a0a" stroke="#0a0a0a" stroke-width="0.15">Rapamycin</text>
<line x1="40" y1="467.6" x2="89" y2="467.6" stroke="#111" stroke-width="1"/>
<text x="64.2" y="474.4" font-size="6.2" font-weight="bold" text-anchor="middle" fill="#0a0a0a" stroke="#0a0a0a" stroke-width="0.2" textLength="39.3" lengthAdjust="spacingAndGlyphs">C57BL/6 WT</text>
<line x1="108.8" y1="467.6" x2="236.5" y2="467.6" stroke="#111" stroke-width="1"/>
<text x="168" y="474.4" font-size="6.4" font-weight="bold" text-anchor="middle" fill="#0a0a0a" stroke="#0a0a0a" stroke-width="0.2" textLength="49" lengthAdjust="spacingAndGlyphs">C57BL/6 W<tspan font-size="3" dy="-2.2">41</tspan><tspan dy="2.2">/W</tspan><tspan font-size="3" dy="-2.2">41</tspan></text>
<text x="8" y="398.5" font-size="6.5" font-weight="normal" text-anchor="middle" fill="#1c1c1c" stroke="#1c1c1c" stroke-width="0.18" transform="rotate(-90 8 398.5)">BM SKL frequency (%)</text>
<text x="248.5" y="347.6" font-size="11.6" font-weight="bold" text-anchor="start" fill="#111">J</text>
<text x="0" y="0" font-size="7" font-weight="normal" text-anchor="end" fill="#1c1c1c" stroke="#1c1c1c" stroke-width="0.22" transform="translate(267.2 354.20000000000005) scale(1 1)">30</text>
<text x="0" y="0" font-size="7" font-weight="normal" text-anchor="end" fill="#1c1c1c" stroke="#1c1c1c" stroke-width="0.22" transform="translate(267.2 370.25000000000006) scale(1 1)">25</text>
<text x="0" y="0" font-size="7" font-weight="normal" text-anchor="end" fill="#1c1c1c" stroke="#1c1c1c" stroke-width="0.22" transform="translate(267.2 386.30000000000007) scale(1 1)">20</text>
<text x="0" y="0" font-size="7" font-weight="normal" text-anchor="end" fill="#1c1c1c" stroke="#1c1c1c" stroke-width="0.22" transform="translate(267.2 402.35) scale(1 1)">15</text>
<text x="0" y="0" font-size="7" font-weight="normal" text-anchor="end" fill="#1c1c1c" stroke="#1c1c1c" stroke-width="0.22" transform="translate(267.2 418.40000000000003) scale(1 1)">10</text>
<text x="0" y="0" font-size="7" font-weight="normal" text-anchor="end" fill="#1c1c1c" stroke="#1c1c1c" stroke-width="0.22" transform="translate(267.2 434.45000000000005) scale(1 1)">5</text>
<text x="0" y="0" font-size="7" font-weight="normal" text-anchor="end" fill="#1c1c1c" stroke="#1c1c1c" stroke-width="0.22" transform="translate(267.2 450.50000000000006) scale(1 1)">0</text>
<line x1="272.6" y1="351" x2="272.6" y2="447.9" stroke="#cfcfcf" stroke-width="0.8"/>
<line x1="272.6" y1="447.9" x2="487" y2="447.9" stroke="#d4d4d4" stroke-width="0.8"/>
<rect x="283" y="401" width="14.300000000000011" height="46.89999999999998" fill="#6c6c6c" />
<rect x="317.8" y="365.6" width="14.5" height="82.29999999999995" fill="#040404" />
<rect x="353.2" y="403.9" width="14.600000000000023" height="44.0" fill="#adadad" />
<rect x="388.5" y="422.3" width="14" height="25.6" fill="url(#st)"/>
<rect x="423" y="406" width="14.5" height="41.89999999999998" fill="#9e9e9e" />
<rect x="458.5" y="398" width="14.5" height="49.89999999999998" fill="#9e9e9e" />
<line x1="290" y1="394.8" x2="290" y2="401" stroke="#b0b0b0" stroke-width="0.9"/>
<line x1="325" y1="361" x2="325" y2="365.6" stroke="#b0b0b0" stroke-width="0.9"/>
<line x1="360.6" y1="395.3" x2="360.6" y2="404" stroke="#b0b0b0" stroke-width="0.9"/>
<line x1="396" y1="419" x2="396" y2="422.3" stroke="#b0b0b0" stroke-width="0.9"/>
<line x1="430" y1="399.3" x2="430" y2="406" stroke="#b0b0b0" stroke-width="0.9"/>
<line x1="465.5" y1="392.3" x2="465.5" y2="398" stroke="#b0b0b0" stroke-width="0.9"/>
<line x1="289.8" y1="358.1" x2="324.6" y2="358.1" stroke="#1e1e1e" stroke-width="1.3"/>
<text x="308.1" y="357.51000000000005" font-size="9" font-weight="bold" text-anchor="middle" fill="#080808" stroke="#080808" stroke-width="0.15">**</text>
<line x1="360" y1="391.8" x2="394.6" y2="391.8" stroke="#1e1e1e" stroke-width="1.3"/>
<text x="378" y="390.71000000000004" font-size="9" font-weight="bold" text-anchor="middle" fill="#080808" stroke="#080808" stroke-width="0.15">*</text>
<line x1="396" y1="388" x2="465.7" y2="388" stroke="#1e1e1e" stroke-width="1.3"/>
<text x="447.7" y="387.71000000000004" font-size="9" font-weight="bold" text-anchor="middle" fill="#080808" stroke="#080808" stroke-width="0.15">**</text>
<line x1="396" y1="395.7" x2="430.3" y2="395.7" stroke="#1e1e1e" stroke-width="1.3"/>
<text x="414" y="396.31" font-size="9" font-weight="bold" text-anchor="middle" fill="#080808" stroke="#080808" stroke-width="0.15">*</text>
<text x="290" y="457.3" font-size="6.7" font-weight="bold" text-anchor="middle" fill="#0a0a0a" stroke="#0a0a0a" stroke-width="0.15">Control</text>
<text x="325" y="457.3" font-size="6.7" font-weight="bold" text-anchor="middle" fill="#0a0a0a" stroke="#0a0a0a" stroke-width="0.15">FGF-2</text>
<text x="359.5" y="457.3" font-size="6.7" font-weight="bold" text-anchor="middle" fill="#0a0a0a" stroke="#0a0a0a" stroke-width="0.15">Control</text>
<text x="395.5" y="457.3" font-size="6.7" font-weight="bold" text-anchor="middle" fill="#0a0a0a" stroke="#0a0a0a" stroke-width="0.15">FGF-2</text>
<text x="431" y="457.3" font-size="6.7" font-weight="bold" text-anchor="middle" fill="#0a0a0a" stroke="#0a0a0a" stroke-width="0.15">FGF-2 +</text>
<text x="431" y="464.5" font-size="6.7" font-weight="bold" text-anchor="middle" fill="#0a0a0a" stroke="#0a0a0a" stroke-width="0.15">NAC</text>
<text x="466" y="457.3" font-size="6.7" font-weight="bold" text-anchor="middle" fill="#0a0a0a" stroke="#0a0a0a" stroke-width="0.15">FGF-2 +</text>
<text x="468" y="464.5" font-size="6.7" font-weight="bold" text-anchor="middle" fill="#0a0a0a" stroke="#0a0a0a" stroke-width="0.15">Rapamycin</text>
<line x1="283.3" y1="467.6" x2="331.5" y2="467.6" stroke="#111" stroke-width="1"/>
<text x="308" y="474.6" font-size="6.2" font-weight="bold" text-anchor="middle" fill="#0a0a0a" stroke="#0a0a0a" stroke-width="0.2" textLength="40" lengthAdjust="spacingAndGlyphs">C57BL/6 WT</text>
<line x1="354" y1="467.6" x2="485" y2="467.6" stroke="#111" stroke-width="1"/>
<text x="414.2" y="474.6" font-size="6.4" font-weight="bold" text-anchor="middle" fill="#0a0a0a" stroke="#0a0a0a" stroke-width="0.2" textLength="49.5" lengthAdjust="spacingAndGlyphs">C57BL/6 W<tspan font-size="3" dy="-2.2">41</tspan><tspan dy="2.2">/W</tspan><tspan font-size="3" dy="-2.2">41</tspan></text>
<text x="255" y="398" font-size="6.9" font-weight="normal" text-anchor="middle" fill="#1c1c1c" stroke="#1c1c1c" stroke-width="0.18" transform="rotate(-90 255 398)">CD34<tspan font-size="4.2" dy="-2.2">(-/low)</tspan><tspan dy="2.2"> / SKL (%)</tspan></text>
</g>
</svg>
</body></html>
